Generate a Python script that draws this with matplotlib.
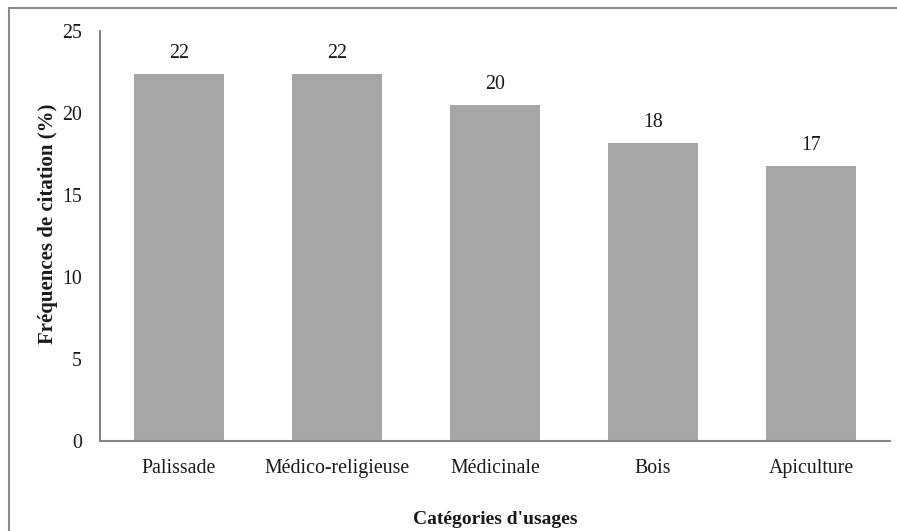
import matplotlib
matplotlib.use("Agg")
import matplotlib.pyplot as plt
from matplotlib.lines import Line2D

# Citation frequency by use category (%)
categories = ["Palissade", "Médico-religieuse", "Médicinale", "Bois", "Apiculture"]
frequencies = [22.36, 22.36, 20.48, 18.15, 16.76]
yticks = [0, 5, 10, 15, 20, 25]

plt.rcParams["font.family"] = ["Liberation Serif", "DejaVu Serif"]

W, H = 897, 531
fig = plt.figure(figsize=(W / 100, H / 100), dpi=100)
ax = fig.add_axes([100 / W, (H - 440.7) / H, 790 / W, 409.7 / H])

x = range(len(categories))
bars = ax.bar(x, frequencies, width=0.57, color="#A6A6A6", zorder=2)

for rect, v in zip(bars, frequencies):
    ax.annotate(f"{v:.0f}", (rect.get_x() + rect.get_width() / 2, v),
                xytext=(0, 8), textcoords="offset points",
                ha="center", va="bottom", fontsize=14.3, color="#1a1a1a")

ax.set_xlim(-0.5, len(categories) - 0.5)
ax.set_ylim(0, 25)
ax.set_yticks(yticks)
ax.set_xticks(list(x))
ax.set_xticklabels(categories)
ax.tick_params(axis="both", length=0, labelsize=14.3, labelcolor="#1a1a1a")
ax.tick_params(axis="y", pad=13)
ax.tick_params(axis="x", pad=13)

for side in ("top", "right"):
    ax.spines[side].set_visible(False)
for side in ("left", "bottom"):
    ax.spines[side].set_color("#858585")
    ax.spines[side].set_linewidth(1.5)

ax.set_ylabel("Fréquences de citation (%)", fontsize=15, fontweight="bold",
              color="#1a1a1a", va="center")
ax.yaxis.set_label_coords(-52 / 790, (440.7 - 224) / 409.7)
ax.set_xlabel("Catégories d'usages", fontsize=14, fontweight="bold",
              color="#1a1a1a", va="center")
ax.xaxis.set_label_coords(0.5, -(520 - 440.7) / 409.7)

# Frame around the chart area
border_kw = dict(color="#8c8c8c", linewidth=1.5, transform=fig.transFigure)
fig.add_artist(Line2D([8.5 / W, 8.5 / W], [0, (H - 7.5) / H], **border_kw))
fig.add_artist(Line2D([8.5 / W, 1], [(H - 7.5) / H, (H - 7.5) / H], **border_kw))

fig.savefig("out.png", dpi=100, facecolor="white")
